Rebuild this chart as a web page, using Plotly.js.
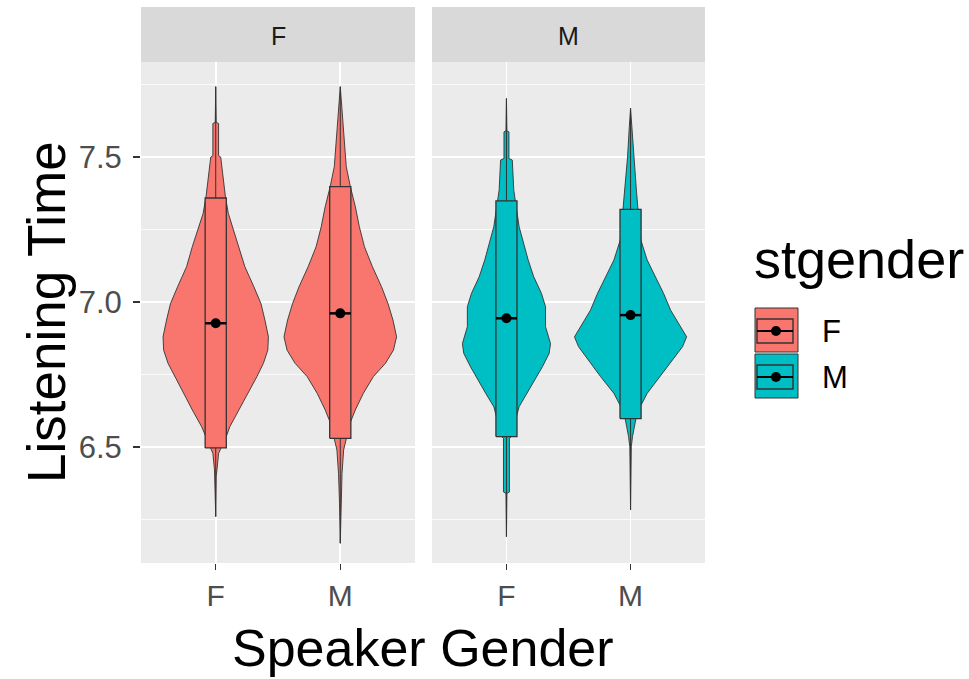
<!DOCTYPE html>
<html>
<head>
<meta charset="utf-8">
<script src="https://cdn.plot.ly/plotly-3.0.1.min.js"></script>
<style>html,body{margin:0;padding:0;background:#fff;}#chart{width:969px;height:679px;}</style>
</head>
<body>
<div id="chart"></div>
<script>
// ---- Data ----
const facets = ['F', 'M'];              // stgender (panels)
const speakerCats = ['F', 'M'];         // Speaker Gender (x categories)
const yTickVals = [6.5, 7.0, 7.5];
const yTickText = ['6.5', '7.0', '7.5'];
const yMinorVals = [6.25, 6.75, 7.25, 7.75];

// violin density profiles: y level and half-width (in category units)
const vFF_y = [7.743, 7.62, 7.616, 7.505, 7.50, 7.432, 7.363, 7.306, 7.243, 7.191, 7.122, 7.053, 6.995, 6.938, 6.880, 6.834, 6.789, 6.743, 6.685, 6.628, 6.570, 6.541, 6.495, 6.478, 6.421, 6.40, 6.260];
const vFF_w = [0, 0.004, 0.023, 0.023, 0.040, 0.060, 0.078, 0.101, 0.148, 0.188, 0.234, 0.306, 0.363, 0.395, 0.423, 0.418, 0.383, 0.331, 0.256, 0.188, 0.113, 0.089, 0.040, 0.023, 0.010, 0.004, 0];
const vFM_y = [7.743, 7.662, 7.616, 7.467, 7.398, 7.329, 7.260, 7.191, 7.122, 7.053, 6.995, 6.938, 6.880, 6.834, 6.789, 6.743, 6.685, 6.628, 6.582, 6.530, 6.490, 6.409, 6.306, 6.168];
const vFM_w = [0, 0.014, 0.020, 0.048, 0.081, 0.121, 0.153, 0.194, 0.258, 0.331, 0.383, 0.423, 0.452, 0.427, 0.363, 0.266, 0.185, 0.121, 0.078, 0.048, 0.027, 0.014, 0.006, 0];
const vMF_y = [7.702, 7.59, 7.587, 7.495, 7.490, 7.386, 7.260, 7.202, 7.145, 7.087, 7.030, 6.984, 6.915, 6.857, 6.823, 6.777, 6.731, 6.685, 6.639, 6.570, 6.536, 6.530, 6.345, 6.340, 6.191];
const vMF_w = [0, 0.004, 0.020, 0.020, 0.047, 0.059, 0.102, 0.140, 0.175, 0.220, 0.282, 0.315, 0.315, 0.355, 0.344, 0.290, 0.228, 0.167, 0.102, 0.059, 0.040, 0.024, 0.024, 0.004, 0];
const vMM_y = [7.668, 7.605, 7.501, 7.386, 7.320, 7.214, 7.145, 7.087, 7.030, 6.972, 6.915, 6.880, 6.846, 6.800, 6.743, 6.685, 6.639, 6.599, 6.536, 6.501, 6.283];
const vMM_w = [0, 0.010, 0.024, 0.047, 0.060, 0.083, 0.134, 0.202, 0.266, 0.323, 0.403, 0.452, 0.419, 0.339, 0.242, 0.134, 0.078, 0.044, 0.016, 0.006, 0];

// summary stats per panel, ordered by speaker [F, M]
const meanF = [6.927, 6.961];
const meanM = [6.944, 6.955];
const boxLowF = [6.497, 6.530];
const boxHighF = [7.359, 7.398];
const boxLowM = [6.536, 6.598];
const boxHighM = [7.349, 7.320];
const minF = [6.260, 6.168];
const maxF = [7.743, 7.743];
const minM = [6.191, 6.283];
const maxM = [7.702, 7.668];

// ---- Styles ----
const fillCol = {F: '#F8766D', M: '#00BFC4'};
const outline = '#333333';
const boxHalf = 0.085;
const FONT = 'Liberation Sans, Arial, sans-serif';

const profiles = {
  F: [[vFF_y, vFF_w], [vFM_y, vFM_w]],
  M: [[vMF_y, vMF_w], [vMM_y, vMM_w]]
};
const stats = {
  F: {mean: meanF, lo: boxLowF, hi: boxHighF, mn: minF, mx: maxF},
  M: {mean: meanM, lo: boxLowM, hi: boxHighM, mn: minM, mx: maxM}
};

const traces = [];
facets.forEach((fac, fi) => {
  const xa = fi === 0 ? 'x' : 'x2';
  const ya = fi === 0 ? 'y' : 'y2';
  speakerCats.forEach((cat, ci) => {
    const pos = ci + 1;
    const [py, pw] = profiles[fac][ci];
    const xs = [], ys = [];
    py.forEach((v, i) => { xs.push(pos + pw[i]); ys.push(v); });
    for (let i = py.length - 1; i >= 0; i--) { xs.push(pos - pw[i]); ys.push(py[i]); }
    xs.push(xs[0]); ys.push(ys[0]);
    traces.push({type: 'scatter', mode: 'lines', x: xs, y: ys, xaxis: xa, yaxis: ya,
      fill: 'toself', fillcolor: fillCol[fac], line: {color: outline, width: 0.9}, hoverinfo: 'skip', showlegend: false});
    const s = stats[fac];
    // whiskers
    traces.push({type: 'scatter', mode: 'lines', x: [pos, pos, null, pos, pos],
      y: [s.hi[ci], s.mx[ci], null, s.lo[ci], s.mn[ci]], xaxis: xa, yaxis: ya,
      line: {color: outline, width: 1}, hoverinfo: 'skip', showlegend: false});
    // box
    traces.push({type: 'scatter', mode: 'lines',
      x: [pos - boxHalf, pos + boxHalf, pos + boxHalf, pos - boxHalf, pos - boxHalf],
      y: [s.lo[ci], s.lo[ci], s.hi[ci], s.hi[ci], s.lo[ci]], xaxis: xa, yaxis: ya,
      fill: 'toself', fillcolor: fillCol[fac], line: {color: outline, width: 1.3}, hoverinfo: 'skip', showlegend: false});
    // mean bar
    traces.push({type: 'scatter', mode: 'lines', x: [pos - boxHalf, pos + boxHalf],
      y: [s.mean[ci], s.mean[ci]], xaxis: xa, yaxis: ya,
      line: {color: '#000', width: 2.5}, hoverinfo: 'skip', showlegend: false});
    // mean point
    traces.push({type: 'scatter', mode: 'markers', x: [pos], y: [s.mean[ci]], xaxis: xa, yaxis: ya,
      marker: {color: '#000', size: 10}, hoverinfo: 'skip', showlegend: false});
  });
});

const W = 969, H = 679;
const px = v => v / W, py = v => 1 - v / H;
const dom1 = [px(141), px(415)], dom2 = [px(432), px(705)];
const ydom = [py(563), py(62)];

const xCommon = {
  range: [0.4, 2.6], tickvals: [1, 2], ticktext: speakerCats,
  showgrid: true, gridcolor: '#FFFFFF', gridwidth: 1.6, zeroline: false, showline: false,
  ticks: 'outside', ticklen: 6, tickwidth: 1.3, tickcolor: '#333333',
  tickfont: {family: FONT, size: 30, color: '#4D4D4D'}, fixedrange: true
};
const yCommon = {
  domain: ydom, range: [6.100, 7.828], tickvals: yTickVals, ticktext: yTickText,
  showgrid: true, gridcolor: '#FFFFFF', gridwidth: 1.6, zeroline: false, showline: false,
  minor: {tickvals: yMinorVals, showgrid: true, gridcolor: '#FFFFFF', gridwidth: 0.8, ticks: ''},
  fixedrange: true
};

const shapes = [];
const annotations = [];
// facet strips
[dom1, dom2].forEach((d, i) => {
  shapes.push({type: 'rect', xref: 'paper', yref: 'paper', x0: d[0], x1: d[1], y0: py(62), y1: py(7),
    fillcolor: '#D9D9D9', line: {width: 0}, layer: 'below'});
  annotations.push({xref: 'paper', yref: 'paper', x: (d[0] + d[1]) / 2, y: py(36), text: facets[i],
    showarrow: false, xanchor: 'center', yanchor: 'middle', font: {family: FONT, size: 25, color: '#1A1A1A'}});
});
// axis titles
annotations.push({xref: 'paper', yref: 'paper', x: px(423), y: py(648), text: 'Speaker Gender', showarrow: false,
  xanchor: 'center', yanchor: 'middle', font: {family: FONT, size: 52, color: '#000'}});
annotations.push({xref: 'paper', yref: 'paper', x: px(47), y: py(312), text: 'Listening Time', showarrow: false,
  textangle: -90, xanchor: 'center', yanchor: 'middle', font: {family: FONT, size: 53, color: '#000'}});
// legend
annotations.push({xref: 'paper', yref: 'paper', x: px(752), y: py(259), text: 'stgender', showarrow: false,
  xanchor: 'left', yanchor: 'middle', font: {family: FONT, size: 54, color: '#000'}});
const keyTops = [308, 354];
facets.forEach((f, i) => {
  const t = keyTops[i], b = t + 44, l = 755, r = 798, c = (t + b) / 2 + 1;
  shapes.push({type: 'rect', xref: 'paper', yref: 'paper', x0: px(l), x1: px(r), y0: py(b), y1: py(t),
    fillcolor: fillCol[f], line: {color: outline, width: 1}});
  shapes.push({type: 'rect', xref: 'paper', yref: 'paper', x0: px(l + 2), x1: px(r - 5), y0: py(c + 12), y1: py(c - 12),
    fillcolor: 'rgba(0,0,0,0)', line: {color: outline, width: 1.4}});
  shapes.push({type: 'line', xref: 'paper', yref: 'paper', x0: px(l + 2), x1: px(r - 5), y0: py(c), y1: py(c),
    line: {color: '#000', width: 2.2}});
  shapes.push({type: 'circle', xref: 'paper', yref: 'paper', x0: px(l + 16), x1: px(l + 26), y0: py(c + 5), y1: py(c - 5),
    fillcolor: '#000', line: {color: '#000', width: 0}});
  annotations.push({xref: 'paper', yref: 'paper', x: px(820), y: py(c), text: f, showarrow: false,
    xanchor: 'left', yanchor: 'middle', font: {family: FONT, size: 31, color: '#000'}});
});

const layout = {
  width: W, height: H, margin: {l: 0, r: 0, t: 0, b: 0},
  paper_bgcolor: '#FFFFFF', plot_bgcolor: '#EBEBEB', showlegend: false,
  font: {family: FONT},
  xaxis: Object.assign({}, xCommon, {domain: dom1, anchor: 'y'}),
  xaxis2: Object.assign({}, xCommon, {domain: dom2, anchor: 'y2'}),
  yaxis: Object.assign({}, yCommon, {anchor: 'x', ticks: 'outside', ticklen: 7, tickwidth: 1.3, tickcolor: '#333333',
    ticklabelstandoff: 5, tickfont: {family: FONT, size: 31, color: '#4D4D4D'}}),
  yaxis2: Object.assign({}, yCommon, {anchor: 'x2', matches: 'y', showticklabels: false, ticks: ''}),
  shapes: shapes, annotations: annotations
};

Plotly.newPlot('chart', traces, layout, {displayModeBar: false, staticPlot: true});
</script>
</body>
</html>
